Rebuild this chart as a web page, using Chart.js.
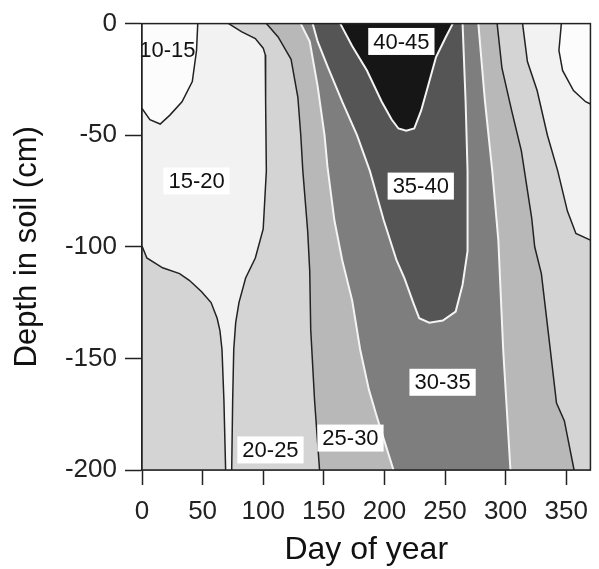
<!DOCTYPE html>
<html lang="en">
<head>
<meta charset="UTF-8">
<title>Soil temperature by depth and day of year</title>
<script src="https://cdn.jsdelivr.net/npm/chart.js"></script>
<style>
  html, body { margin: 0; padding: 0; background: #fff; }
  #wrap { width: 599px; height: 569px; }
</style>
</head>
<body>
<div id="wrap"><canvas id="soilChart"></canvas></div>
<script>
  // axis ranges and ticks
  const dayMin = 0, dayMax = 370;
  const depthMin = -200, depthMax = 0;
  const dayTicks = [0, 50, 100, 150, 200, 250, 300, 350];
  const depthTicks = [0, -50, -100, -150, -200];

  // isolines, as [day, depth]
  const iso15Left = [[46,0],[45,-12],[41.5,-26],[33,-35],[23,-41],[15,-45],[6.5,-43],[0,-38]];
  const iso15Right = [[346,0],[344,-12],[347,-21],[356,-30],[366,-35],[370,-36]];
  const iso20Upper = [[71.5,0],[82,-3.6],[93.5,-6.7],[100,-11],[101.7,-14],[102,-35],[102.6,-66],[100,-92],[93.5,-105],[85.5,-114],[80,-125],[77.3,-134],[75.7,-146],[74.8,-169],[74,-200]];
  const iso20Lower = [[69,-200],[67.6,-169],[66,-146],[64.3,-137.5],[62,-132],[57,-125],[49,-120],[39,-115],[31,-112],[17,-109.4],[4,-105],[0,-99.6]];
  const iso20Right = [[314,0],[318,-17],[326,-30],[334.5,-50],[343,-66],[351,-84],[358,-94],[370,-97]];
  const iso25Left = [[102.6,0],[112.3,-6],[123,-16],[128.6,-33],[131,-50],[132.7,-66],[136.7,-93],[138.4,-111],[139.2,-137],[142.4,-169],[146.5,-200]];
  const iso25Right = [[293,0],[297,-20],[305,-39],[313,-57],[321.5,-87],[324,-100],[329.5,-112],[336,-142],[342,-170],[348.5,-178],[356.5,-200]];
  const iso30Left = [[131,0],[138.4,-8],[144.9,-28],[150.6,-50],[153,-64],[158.7,-88],[165.2,-106],[173.4,-124],[180,-146],[187.2,-164],[193.7,-176],[207.5,-200]];
  const iso30Right = [[277.5,0],[283,-35],[289,-66],[294,-97],[298,-146],[304,-200]];
  const iso35 = [[140.8,0],[144.9,-8],[153,-19],[165.2,-35],[177.4,-50],[188,-66],[199.4,-88],[210,-106],[216.5,-114],[223.8,-125],[228.7,-132],[237,-134],[248.2,-133],[258.8,-129],[264.5,-117],[268.6,-102],[268.6,-66],[267,-35],[264.5,0]];
  const iso40 = [[163.6,0],[173.4,-10],[185.6,-21],[197.8,-35],[206,-43],[211.6,-47],[218,-48],[224.6,-47],[230.3,-39],[236,-28],[242.6,-15],[250.7,-6],[256.4,0]];

  // zone labels
  const zoneLabels = ['10-15', '15-20', '20-25', '25-30', '30-35', '35-40', '40-45'];
  const labelDays = [21, 45, 106, 172, 248, 230, 214];
  const labelDepths = [-11.6, -70.5, -191, -185.7, -160.7, -72.8, -8];
  const labelBoxed = [false, true, true, true, true, true, true];

  const FONT = '"Liberation Sans", Arial, sans-serif';
  const pts = arr => arr.map(([x, y]) => ({ x, y }));
  const rev = arr => arr.slice().reverse();

  // filled zones, built from the isolines and the axis limits
  const zoneAll = [[dayMin, depthMax], [dayMax, depthMax], [dayMax, depthMin], [dayMin, depthMin]];
  const zoneBelow20Left = [[dayMin, depthMax], ...iso20Upper, ...iso20Lower];
  const zoneBelow20Right = [...iso20Right, [dayMax, depthMax]];
  const zoneBelow15Left = [[dayMin, depthMax], ...iso15Left];
  const zoneBelow15Right = [...iso15Right, [dayMax, depthMax]];
  const zoneAbove25 = [...iso25Left, ...rev(iso25Right)];
  const zoneAbove30 = [...iso30Left, ...rev(iso30Right)];

  const zone = (poly, color, order) => ({
    data: pts(poly), fill: 'shape', backgroundColor: color,
    borderColor: 'rgba(0,0,0,0)', borderWidth: 0, order: order
  });
  const isoLine = (line, color, width) => ({
    data: pts(line), fill: false, borderColor: color, borderWidth: width, order: 1
  });

  const datasets = [
    isoLine(iso15Left, '#222', 1.5),
    isoLine(iso15Right, '#222', 1.5),
    isoLine(iso20Upper, '#222', 1.5),
    isoLine(iso20Lower, '#222', 1.5),
    isoLine(iso20Right, '#222', 1.5),
    isoLine(iso25Left, '#222', 1.5),
    isoLine(iso25Right, '#222', 1.5),
    isoLine(iso30Left, '#f4f4f4', 2),
    isoLine(iso30Right, '#f4f4f4', 2),
    isoLine(iso35, '#f4f4f4', 2),
    isoLine(iso40, '#f4f4f4', 2),
    zone(iso40, '#161616', 4),
    zone(iso35, '#555555', 5),
    zone(zoneAbove30, '#7e7e7e', 6),
    zone(zoneAbove25, '#b8b8b8', 7),
    zone(zoneBelow15Left, '#fcfcfc', 8),
    zone(zoneBelow15Right, '#fcfcfc', 8),
    zone(zoneBelow20Left, '#f2f2f2', 9),
    zone(zoneBelow20Right, '#f2f2f2', 9),
    zone(zoneAll, '#d4d4d4', 10)
  ];

  const zoneLabelPlugin = {
    id: 'zoneLabels',
    afterDatasetsDraw(chart) {
      const { ctx, chartArea: a } = chart;
      const x = chart.scales.x, y = chart.scales.y;
      ctx.save();
      ctx.font = '22px ' + FONT;
      ctx.textAlign = 'center';
      ctx.textBaseline = 'middle';
      zoneLabels.forEach((t, i) => {
        const px = x.getPixelForValue(labelDays[i]);
        const py = y.getPixelForValue(labelDepths[i]);
        if (labelBoxed[i]) {
          const w = ctx.measureText(t).width + 10, h = 27;
          ctx.fillStyle = '#fff';
          ctx.fillRect(px - w / 2, py - h / 2, w, h);
        }
        ctx.fillStyle = '#111';
        ctx.fillText(t, px, py + 1);
      });
      // frame round the plot
      ctx.strokeStyle = '#222';
      ctx.lineWidth = 1.5;
      ctx.strokeRect(a.left, a.top, a.right - a.left, a.bottom - a.top);
      ctx.restore();
    }
  };

  new Chart(document.getElementById('soilChart'), {
    type: 'line',
    data: { datasets },
    options: {
      responsive: true,
      maintainAspectRatio: false,
      animation: false,
      layout: { padding: { top: 22, right: 2, left: 0, bottom: 0 } },
      plugins: { legend: { display: false }, tooltip: { enabled: false } },
      elements: { point: { radius: 0 }, line: { tension: 0 } },
      scales: {
        x: {
          type: 'linear', min: dayMin, max: dayMax,
          afterBuildTicks: s => { s.ticks = dayTicks.map(v => ({ value: v })); },
          afterFit: s => { s.height = 99; },
          grid: { drawOnChartArea: false, tickLength: 15, tickColor: '#222', tickWidth: 1.5 },
          border: { color: '#222', width: 1.5 },
          ticks: { font: { size: 26, family: FONT }, color: '#222', padding: 11, maxRotation: 0, autoSkip: false },
          title: { display: true, text: 'Day of year', color: '#111', font: { size: 32, family: FONT }, padding: { top: 0, bottom: 0 } }
        },
        y: {
          type: 'linear', min: depthMin, max: depthMax,
          afterBuildTicks: s => { s.ticks = depthTicks.map(v => ({ value: v })); },
          afterFit: s => { s.width = 142; },
          grid: { drawOnChartArea: false, tickLength: 17, tickColor: '#222', tickWidth: 1.5 },
          border: { color: '#222', width: 1.5 },
          ticks: { font: { size: 26, family: FONT }, color: '#222', padding: 8 },
          title: { display: true, text: 'Depth in soil (cm)', color: '#111', font: { size: 31, family: FONT }, padding: { top: 9, bottom: 0 } }
        }
      }
    },
    plugins: [zoneLabelPlugin]
  });
</script>
</body>
</html>
